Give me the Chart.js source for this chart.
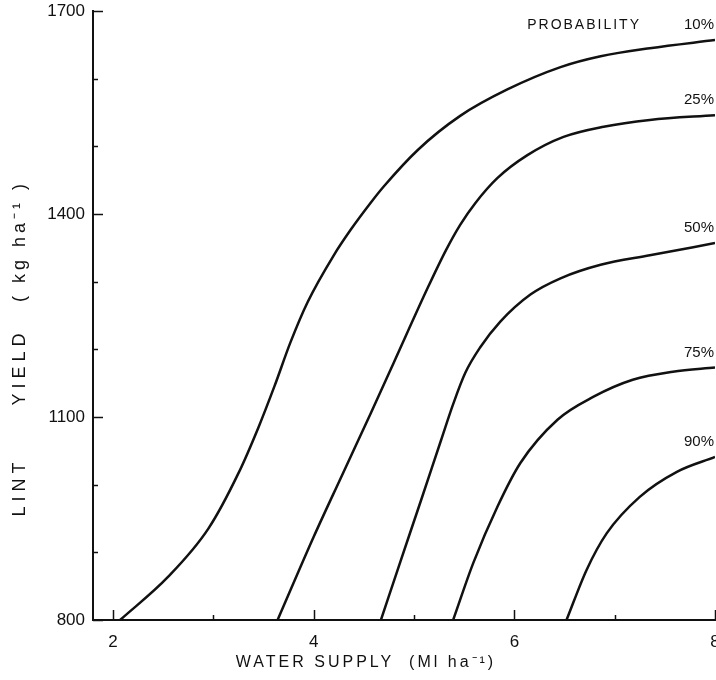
<!DOCTYPE html>
<html>
<head>
<meta charset="utf-8">
<script src="https://cdn.jsdelivr.net/npm/chart.js@4"></script>
<style>
  body { margin: 0; background: #fff; }
</style>
</head>
<body>
<canvas id="chart" width="716" height="680"></canvas>
<script>
// values
var probabilities = ["10%", "25%", "50%", "75%", "90%"];

var water10 = [2.07, 2.55, 2.95, 3.25, 3.45, 3.61, 3.77, 3.94, 4.20, 4.37, 4.57, 4.70, 5.04, 5.46, 5.93, 6.46, 6.86, 7.35, 8.0];
var yield10 = [800, 864, 935, 1017, 1085, 1146, 1211, 1270, 1339, 1377, 1417, 1441, 1495, 1545, 1584, 1617, 1633, 1645, 1657];

var water25 = [3.64, 4.00, 4.27, 4.57, 4.80, 5.14, 5.32, 5.46, 5.61, 5.83, 6.13, 6.49, 6.89, 7.35, 8.0];
var yield25 = [800, 923, 1010, 1106, 1181, 1292, 1347, 1384, 1416, 1453, 1487, 1514, 1529, 1539, 1546];

var water50 = [4.67, 4.87, 5.07, 5.27, 5.39, 5.51, 5.66, 5.86, 6.16, 6.46, 6.86, 7.35, 8.0];
var yield50 = [800, 889, 977, 1066, 1119, 1165, 1203, 1241, 1281, 1305, 1325, 1339, 1357];

var water75 = [5.39, 5.59, 5.83, 6.06, 6.43, 6.79, 7.18, 7.58, 8.0];
var yield75 = [800, 884, 967, 1032, 1096, 1130, 1155, 1167, 1173];

var water90 = [6.52, 6.72, 6.92, 7.25, 7.62, 8.0];
var yield90 = [800, 874, 928, 982, 1019, 1041];

var xTicks = [2, 3, 4, 5, 6, 7, 8];
var xLabels = [2, 4, 6, 8];
var yTicks = [800, 900, 1000, 1100, 1200, 1300, 1400, 1500, 1600, 1700];
var yLabels = [800, 1100, 1400, 1700];

var FONT = "'Liberation Sans', Arial, sans-serif";

function pairs(xs, ys) {
  return xs.map(function(x, i) { return { x: x, y: ys[i] }; });
}

var series = [
  pairs(water10, yield10),
  pairs(water25, yield25),
  pairs(water50, yield50),
  pairs(water75, yield75),
  pairs(water90, yield90)
];

var datasets = series.map(function(d, i) {
  return {
    label: probabilities[i],
    data: d,
    showLine: true,
    borderColor: '#111',
    borderWidth: 2.5,
    pointRadius: 0,
    cubicInterpolationMode: 'monotone'
  };
});

// inward tick marks, curve labels and axis titles
var decorations = {
  id: 'decorations',
  afterDraw: function(chart) {
    var ctx = chart.ctx;
    var area = chart.chartArea;
    var xs = chart.scales.x, ys = chart.scales.y;
    ctx.save();
    ctx.strokeStyle = '#111';
    ctx.lineWidth = 1.5;
    xTicks.forEach(function(v) {
      var px = Math.round(xs.getPixelForValue(v)) + 0.5;
      var len = xLabels.indexOf(v) >= 0 ? 10 : 5;
      ctx.beginPath();
      ctx.moveTo(px, area.bottom);
      ctx.lineTo(px, area.bottom - len);
      ctx.stroke();
    });
    yTicks.forEach(function(v) {
      var py = Math.round(ys.getPixelForValue(v)) + 0.5;
      var len = yLabels.indexOf(v) >= 0 ? 10 : 5;
      ctx.beginPath();
      ctx.moveTo(area.left, py);
      ctx.lineTo(area.left + len, py);
      ctx.stroke();
    });

    // curve labels, just above the end of each curve
    ctx.fillStyle = '#111';
    ctx.textAlign = 'right';
    ctx.textBaseline = 'alphabetic';
    ctx.font = '15px ' + FONT;
    chart.data.datasets.forEach(function(ds, i) {
      var pts = chart.getDatasetMeta(i).data;
      var last = pts[pts.length - 1];
      ctx.fillText(ds.label, area.right - 1, last.y - 11);
      if (i === 0) {
        ctx.save();
        ctx.font = '14px ' + FONT;
        ctx.letterSpacing = '2px';
        ctx.fillText('PROBABILITY', area.right - 74, last.y - 11);
        ctx.restore();
      }
    });

    // axis titles
    ctx.letterSpacing = '3px';
    ctx.font = '16px ' + FONT;
    ctx.textAlign = 'center';
    ctx.textBaseline = 'middle';
    ctx.fillText('WATER SUPPLY  (Ml ha\u207B\u00B9)', 366, 663);
    ctx.translate(20, 0);
    ctx.rotate(-Math.PI / 2);
    ctx.font = '18px ' + FONT;
    ctx.letterSpacing = '5px';
    ctx.fillText('LINT', -487, 0);
    ctx.fillText('YIELD', -367, 0);
    ctx.letterSpacing = '4px';
    ctx.fillText('( kg ha\u207B\u00B9 )', -241, 0);
    ctx.restore();
  }
};

new Chart(document.getElementById('chart'), {
  type: 'scatter',
  data: { datasets: datasets },
  options: {
    responsive: false,
    animation: false,
    layout: { padding: { top: 11, right: 1, left: 0, bottom: 0 } },
    plugins: {
      legend: { display: false },
      tooltip: { enabled: false }
    },
    scales: {
      x: {
        type: 'linear',
        min: 1.8,
        max: 8,
        afterBuildTicks: function(scale) {
          scale.ticks = xTicks.map(function(v) { return { value: v }; });
        },
        afterFit: function(scale) {
          scale.height = 60;
          scale.paddingLeft = 0;
          scale.paddingRight = 0;
        },
        grid: { display: false, drawTicks: false },
        border: { display: true, color: '#111', width: 2 },
        ticks: {
          autoSkip: false,
          maxRotation: 0,
          padding: 12,
          color: '#111',
          font: { family: FONT, size: 17 },
          callback: function(v) { return xLabels.indexOf(v) >= 0 ? String(v) : ''; }
        }
      },
      y: {
        type: 'linear',
        min: 800,
        max: 1700,
        afterBuildTicks: function(scale) {
          scale.ticks = yTicks.map(function(v) { return { value: v }; });
        },
        afterFit: function(scale) {
          scale.width = 93;
          scale.paddingTop = 0;
          scale.paddingBottom = 0;
        },
        grid: { display: false, drawTicks: false },
        border: { display: true, color: '#111', width: 2 },
        ticks: {
          autoSkip: false,
          padding: 8,
          color: '#111',
          font: { family: FONT, size: 17 },
          callback: function(v) { return yLabels.indexOf(v) >= 0 ? String(v) : ''; }
        }
      }
    }
  },
  plugins: [decorations]
});
</script>
</body>
</html>
